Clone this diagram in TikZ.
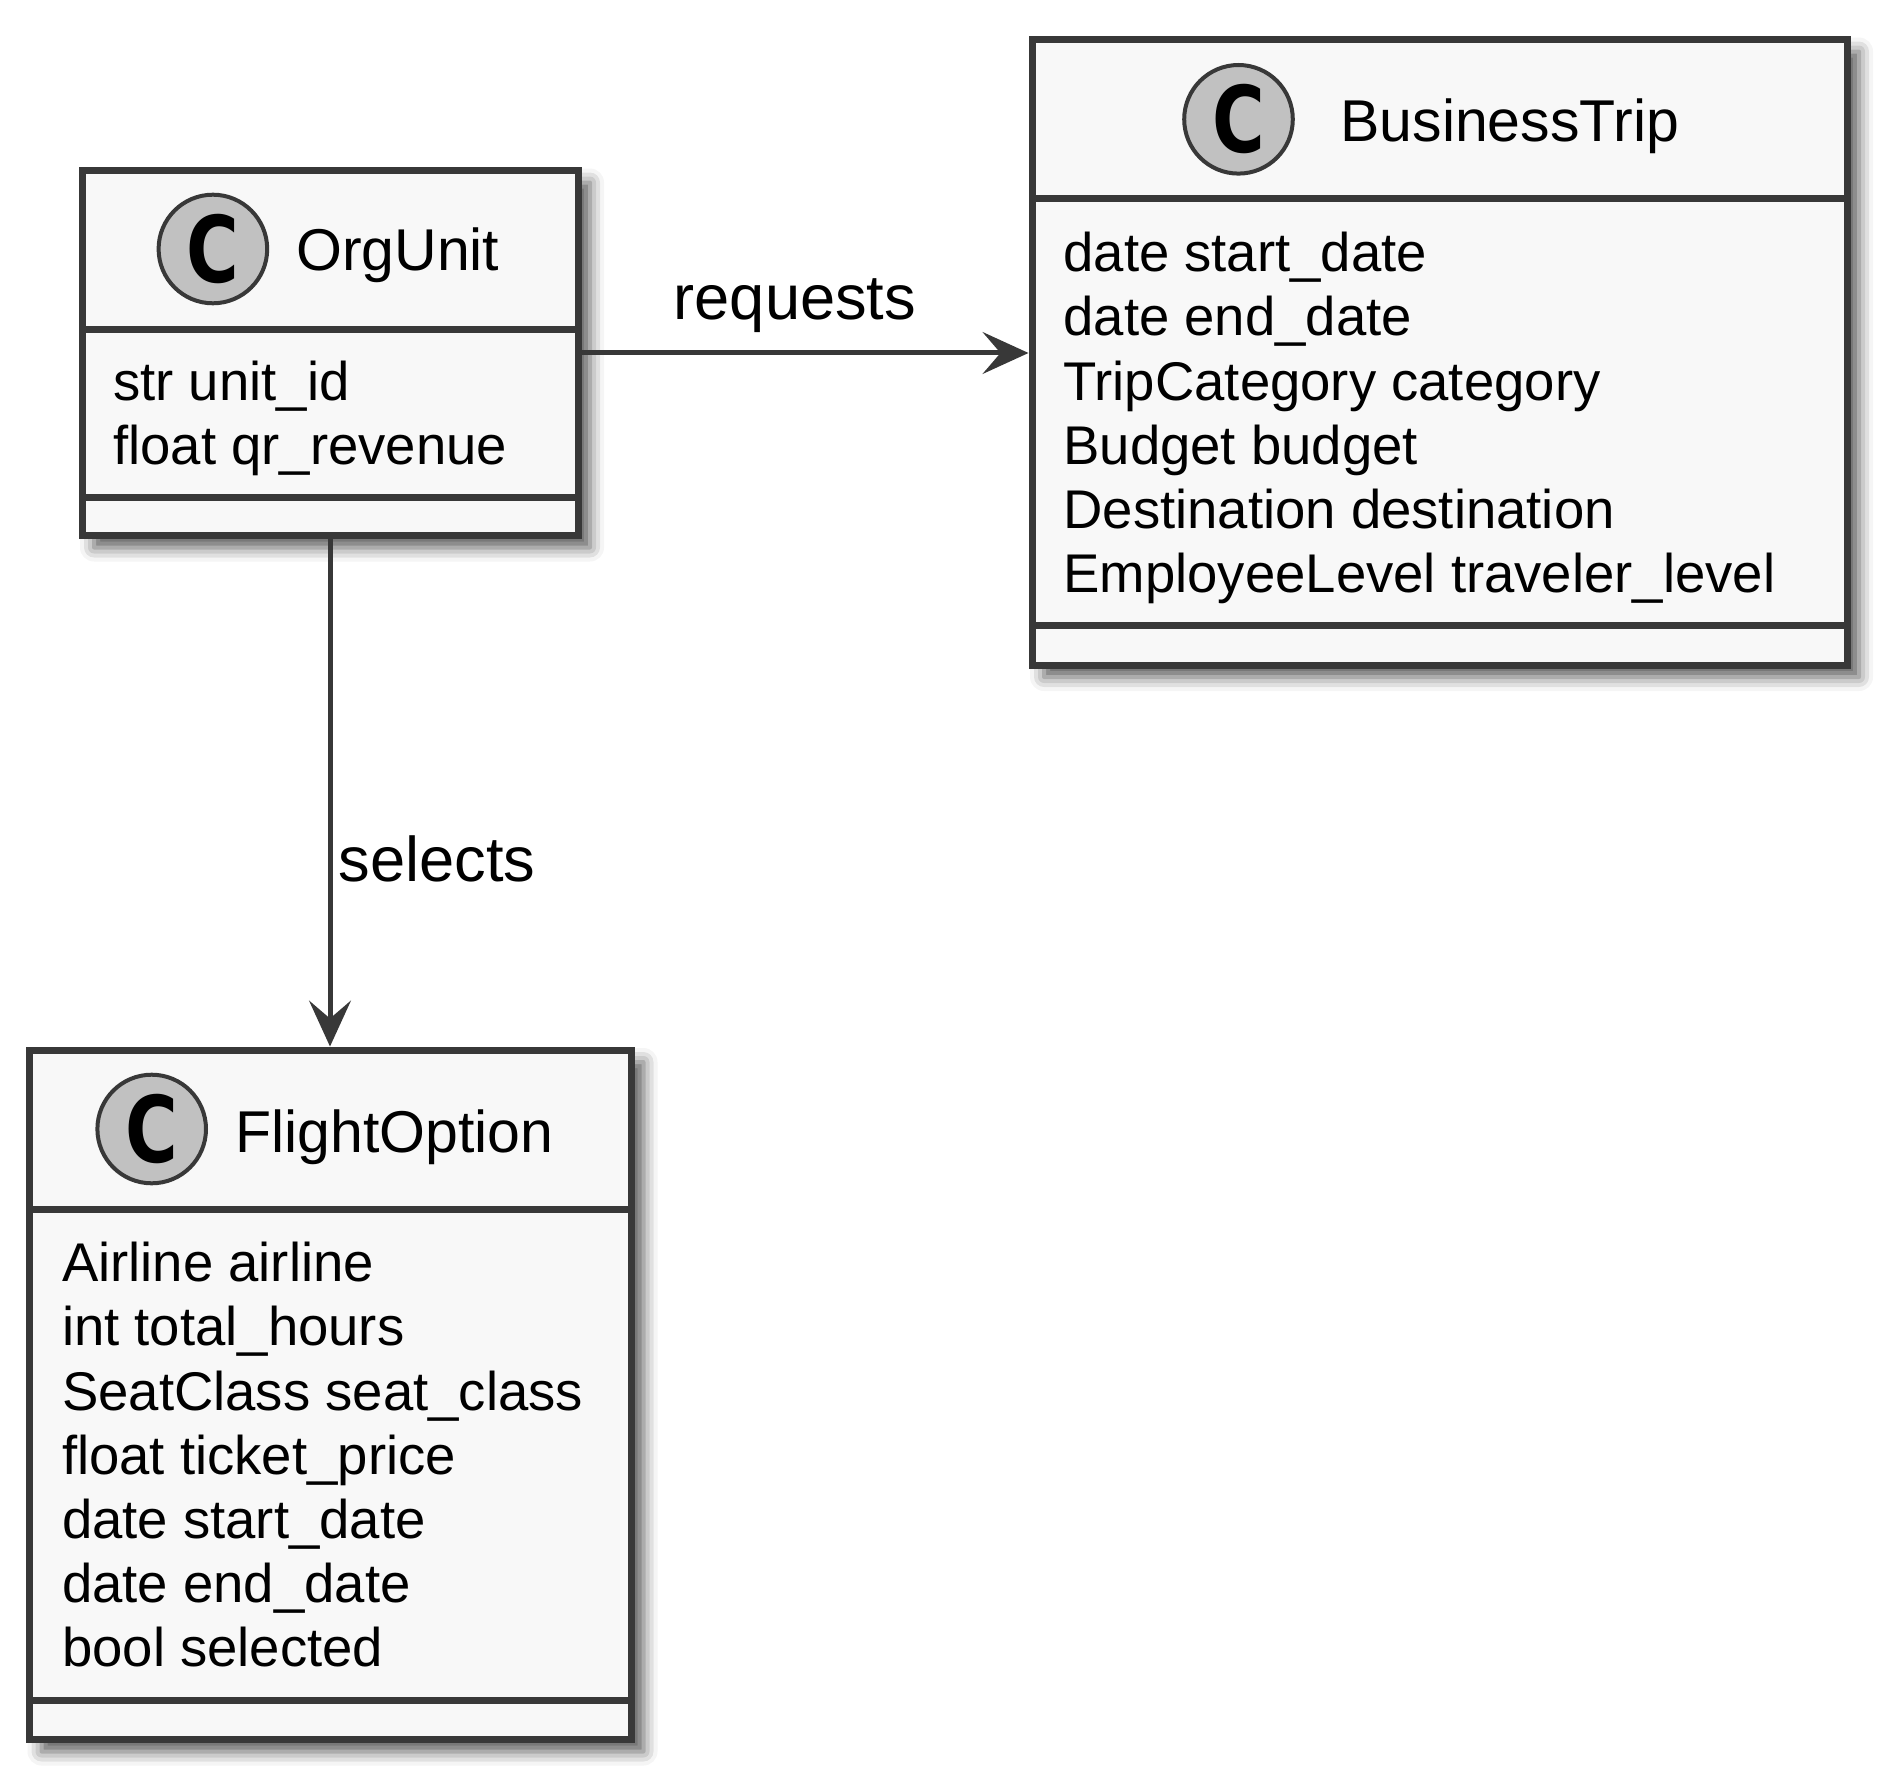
\documentclass[tikz,border=0pt]{standalone}
\usepackage{fontspec}
\setmainfont{Liberation Sans}
\newfontfamily\spotfont{DejaVu Sans}
\usetikzlibrary{arrows.meta,shadows.blur}
\definecolor{bordercol}{HTML}{383838}
\definecolor{boxfill}{HTML}{F8F8F8}
\definecolor{spotfill}{HTML}{C1C1C1}
\tikzset{
  classbox/.style={rectangle, draw=bordercol, fill=boxfill, line width=3.5pt, inner sep=0pt,
    blur shadow={shadow xshift=6pt, shadow yshift=-6pt, shadow blur radius=7pt, shadow opacity=65}},
  spot/.style={circle, draw=bordercol, fill=spotfill, line width=2pt, minimum size=54.3pt, inner sep=0pt,
    font=\spotfont\bfseries\fontsize{46}{46}\selectfont},
  titletext/.style={anchor=base west, inner sep=0pt, font=\fontsize{29.5}{30}\selectfont},
  attrtext/.style={anchor=base west, inner sep=0pt, font=\fontsize{27.25}{28}\selectfont},
  sepline/.style={draw=bordercol, line width=3.5pt},
  conn/.style={draw=bordercol, line width=2.5pt, -{Stealth[length=23pt,width=21pt,inset=9pt,line width=1.5pt]}},
  lbl/.style={anchor=base west, inner sep=0pt, font=\fontsize{31.6}{32}\selectfont}
}
\newcommand{\spotC}{\scalebox{0.78}[1]{C}}
\begin{document}
\begin{tikzpicture}[x=0.5pt, y=-0.5pt]
\useasboundingbox (0,0) rectangle (1890,1781);

% OrgUnit
\node[classbox, minimum width=248pt, minimum height=182.5pt] (org) at (330,353) {};
\node[spot] (orgspot) at (212.9,249) {\spotC};
\node[titletext] (orgtitle) at (295.7,270.7) {OrgUnit};
\draw[sepline] (82,330) -- (578,330);
\node[attrtext] (orga1) at (112.9,400.5) {str unit\_id};
\node[attrtext] (orga2) at (112.9,464.7) {float qr\_revenue};
\draw[sepline] (82,497) -- (578,497);

% BusinessTrip
\node[classbox, minimum width=407.5pt, minimum height=312.75pt] (bt) at (1439.5,352.25) {};
\node[spot] (btspot) at (1238.5,119.3) {\spotC};
\node[titletext] (bttitle) at (1340,141.7) {BusinessTrip};
\draw[sepline] (1032,199) -- (1847,199);
\node[attrtext] (bta1) at (1063,271.7) {date start\_date};
\node[attrtext] (bta2) at (1063,335.9) {date end\_date};
\node[attrtext] (bta3) at (1063,400.1) {TripCategory category};
\node[attrtext] (bta4) at (1063,464.3) {Budget budget};
\node[attrtext] (bta5) at (1063,528.5) {Destination destination};
\node[attrtext] (bta6) at (1063,592.7) {EmployeeLevel traveler\_level};
\draw[sepline] (1032,625) -- (1847,625);

% FlightOption
\node[classbox, minimum width=301pt, minimum height=344.75pt] (fo) at (330.5,1394.75) {};
\node[spot] (fospot) at (151.7,1129) {\spotC};
\node[titletext] (fotitle) at (235,1152.7) {FlightOption};
\draw[sepline] (29.5,1209) -- (631.5,1209);
\node[attrtext] (foa1) at (61.7,1281.7) {Airline airline};
\node[attrtext] (foa2) at (61.7,1345.9) {int total\_hours};
\node[attrtext] (foa3) at (61.7,1410.1) {SeatClass seat\_class};
\node[attrtext] (foa4) at (61.7,1474.3) {float ticket\_price};
\node[attrtext] (foa5) at (61.7,1538.5) {date start\_date};
\node[attrtext] (foa6) at (61.7,1602.7) {date end\_date};
\node[attrtext] (foa7) at (61.7,1666.9) {bool selected};
\draw[sepline] (29.5,1700) -- (631.5,1700);

% connectors
\draw[conn] (org.east) -- (org.east -| bt.west);
\node[lbl] (lblreq) at (673.3,320) {requests};
\draw[conn] (org.south) -- (org.south |- fo.north);
\node[lbl] (lblsel) at (338.3,881.7) {selects};
\end{tikzpicture}
\end{document}
